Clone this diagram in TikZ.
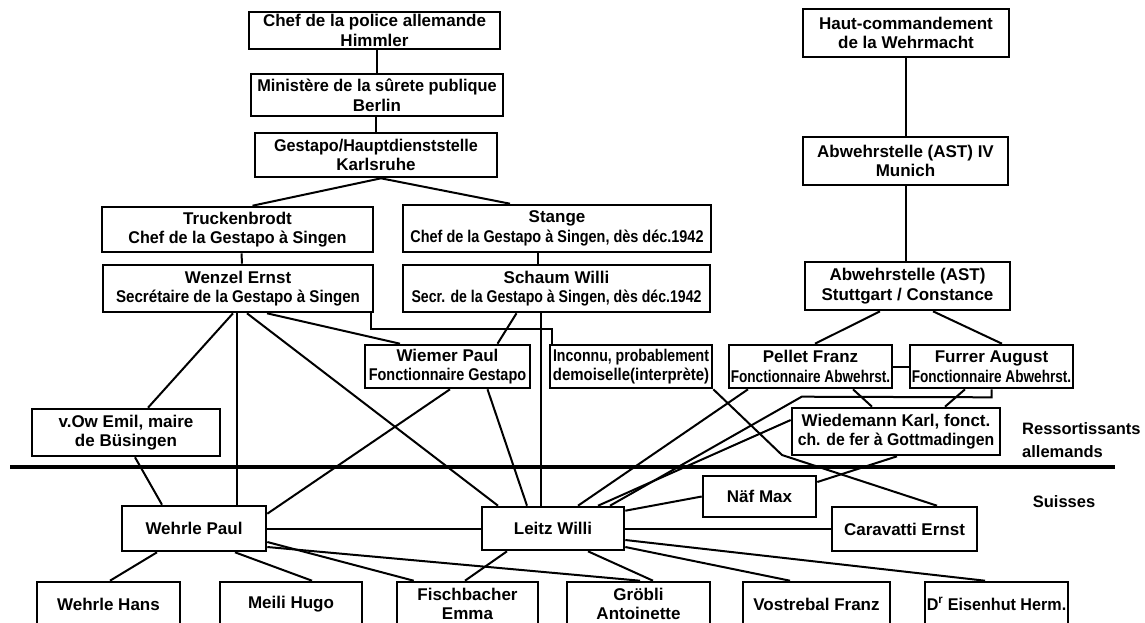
\documentclass[tikz,border=0pt]{standalone}
\usepackage{fontspec}
\setmainfont{Liberation Sans}
\usetikzlibrary{calc}
\newcommand\hsq[2]{\scalebox{#1}[1]{#2}}
\begin{document}
\begin{tikzpicture}[x=1pt,y=-1pt,
  box/.style={draw, line width=2.6pt, inner sep=0pt, align=center,
    font=\fontsize{17}{19.5}\selectfont\bfseries},
  sz/.style 2 args={minimum width=#1pt, minimum height=#2pt},
  conn/.style={line width=2pt},
  lbl/.style={font=\fontsize{16.5}{23}\selectfont\bfseries, align=left, inner sep=0pt}]
\clip (0,0) rectangle (1145,622);
\fill[white] (0,0) rectangle (1145,622);

% Gestapo chain
\node[box,sz={251}{37}] (police) at (374.5,30.5) {Chef de la police allemande\\Himmler};
\node[box,sz={252}{42}] (minist) at (377,95) {\hsq{0.96}{Ministère de la sûrete publique}\\Berlin};
\node[box,sz={242}{44}] (gestk) at (376,155) {\hsq{0.95}{Gestapo/Hauptdienststelle}\\Karlsruhe};
% Wehrmacht chain
\node[box,sz={206}{48}] (haut) at (906,33) {Haut-commandement\\de la Wehrmacht};
\node[box,sz={205}{48}] (munich) at (905.5,161) {Abwehrstelle (AST) IV\\Munich};
\node[box,sz={205}{48}] (stutt) at (907.5,286) {Abwehrstelle (AST)\\Stuttgart / Constance};
% Singen
\node[box,sz={271}{45}] (truck) at (237.5,229.5) {Truckenbrodt\\\hsq{0.95}{Chef de la Gestapo à Singen}};
\node[box,sz={308}{47}] (stange) at (557,228.5) {Stange\\\hsq{0.85}{Chef de la Gestapo à Singen, dès déc.1942}};
\node[box,sz={270}{47}] (wenzel) at (238,288.5) {Wenzel Ernst\\\hsq{0.89}{Secrétaire de la Gestapo à Singen}};
\node[box,sz={307}{47}] (schaum) at (556.5,288.5) {Schaum Willi\\\hsq{0.83}{Secr. de la Gestapo à Singen, dès déc.1942}};
\node[box,sz={165}{43}] (wiemer) at (447.5,366.5) {Wiemer Paul\\\hsq{0.85}{Fonctionnaire Gestapo}};
\node[box,sz={162}{43}] (inconnu) at (631,366.5) {\hsq{0.83}{Inconnu, probablement}\\\hsq{0.88}{demoiselle(interprète)}};
\node[box,sz={163}{43}] (pellet) at (810.5,366.5) {Pellet Franz\\\hsq{0.8}{Fonctionnaire Abwehrst.}};
\node[box,sz={163}{43}] (furrer) at (991.5,366.5) {Furrer August\\\hsq{0.8}{Fonctionnaire Abwehrst.}};
\node[box,sz={208}{47}] (wiedem) at (896,431.5) {Wiedemann Karl, fonct.\\\hsq{0.93}{ch. de fer à Gottmadingen}};
\node[box,sz={188}{47}] (vow) at (126,432.5) {v.Ow Emil, maire\\de Büsingen};
% Swiss
\node[box,sz={144}{45}] (wpaul) at (194,528.5) {Wehrle Paul};
\node[box,sz={142}{43}] (leitz) at (553,528.5) {Leitz Willi};
\node[box,sz={113}{41}] (naf) at (759.5,496.5) {Näf Max};
\node[box,sz={145}{44}] (carav) at (904.5,529) {Caravatti Ernst};
\node[box,sz={143}{44}] (whans) at (108.5,604) {Wehrle Hans};
\node[box,sz={142}{44}] (meili) at (291,604) {Meili Hugo};
\node[box,sz={141}{44}] (fisch) at (467.5,604) {Fischbacher\\Emma};
\node[box,sz={143}{44}] (grobli) at (638.5,604) {Gröbli\\Antoinette};
\node[box,sz={147}{44}] (vostr) at (816.5,604) {Vostrebal Franz};
\node[box,sz={143}{44}] (eisen) at (996.5,604) {\hsq{0.95}{D\textsuperscript{r} Eisenhut Herm.}};

% labels and border
\node[lbl, anchor=west] (ress) at (1022,440) {Ressortissants\\allemands};
\node[lbl] (suisses) at (1064,502) {Suisses};
\draw[line width=4.5pt] (10,467) -- (1115,467);

% connectors: hierarchy
\draw[conn] (minist.north |- police.south) -- (minist.north);
\draw[conn] (gestk.north |- minist.south) -- (gestk.north);
\draw[conn] ($(gestk.south)+(5,0)$) -- ($(truck.north)+(15,0)$);
\draw[conn] ($(gestk.south)+(5,0)$) -- ($(stange.north)+(-47,0)$);
\draw[conn] ($(truck.south)+(4,0)$) -- ($(wenzel.north)+(4,0)$);
\draw[conn] ($(stange.south)+(-19,0)$) -- ($(schaum.north)+(-18.5,0)$);
\draw[conn] (haut.south) -- (haut.south |- munich.north);
\draw[conn] (munich.south) -- (munich.south |- stutt.north);
\draw[conn] ($(stutt.south)+(-27.5,0)$) -- ($(pellet.north)+(4.5,0)$);
\draw[conn] ($(stutt.south)+(25.5,0)$) -- ($(furrer.north)+(10.5,0)$);
\draw[conn] (pellet.east) -- (furrer.west);

% Wenzel
\draw[conn] ($(wenzel.south)+(-5,0)$) -- ($(vow.north)+(22,0)$);
\coordinate (wv) at ($(wenzel.south)+(-1,0)$);
\draw[conn] (wv) -- (wv |- wpaul.north);
\draw[conn] ($(wenzel.south)+(9,0)$) -- ($(leitz.north)+(-55,0)$);
\draw[conn] ($(wenzel.south)+(29,0)$) -- ($(wiemer.north)+(-47.5,0)$);
\draw[conn] ($(wenzel.south east)+(-3,0)$) -- ++(0,16) -| ($(inconnu.north west)+(3,0)$);
% Schaum
\draw[conn] ($(schaum.south)+(-40,0)$) -- ($(wiemer.north)+(50,0)$);
\coordinate (sl) at ($(schaum.south)+(-16,0)$);
\draw[conn] (sl) -- (sl |- leitz.north);
% Wiemer
\draw[conn] ($(wiemer.south)+(2.5,0)$) -- ($(wpaul.north east)+(0,9)$);
\draw[conn] ($(wiemer.south)+(40,0)$) -- ($(leitz.north)+(-26,0)$);
% v. Ow
\draw[conn] ($(vow.south)+(9,0)$) -- ($(wpaul.north)+(-32,0)$);
% Wehrle Paul
\draw[conn] (wpaul.east) -- (leitz.west);
\draw[conn] ($(wpaul.south)+(-37,0)$) -- ($(whans.north)+(1.5,0)$);
\draw[conn] ($(wpaul.south)+(41,0)$) -- ($(meili.north)+(21,0)$);
\draw[conn] ($(wpaul.east)+(0,13.5)$) -- ($(fisch.north west)+(18,0)$);
\draw[conn] ($(wpaul.east)+(0,18.5)$) -- ($(grobli.north)+(1.5,0)$);
% Leitz
\draw[conn] ($(leitz.south)+(-46,0)$) -- ($(fisch.north)+(-2.5,0)$);
\draw[conn] ($(leitz.south)+(35,0)$) -- ($(grobli.north)+(14.5,0)$);
\draw[conn] ($(leitz.east)+(0,18.5)$) -- ($(vostr.north)+(-26.5,0)$);
\draw[conn] ($(leitz.east)+(0,11.5)$) -- ($(eisen.north)+(-11.5,0)$);
\draw[conn] ($(leitz.north east)+(0,5)$) -- (naf.west);
\draw[conn] (leitz.east) -- (leitz.east -| carav.west);
% Abwehr agents
\draw[conn] ($(pellet.south)+(-62.5,0)$) -- ($(leitz.north)+(25,0)$);
\draw[conn] ($(wiedem.west)+(0,-11.5)$) -- ($(leitz.north)+(45,0)$);
\draw[conn] (furrer.south) -- ++(0,8) -- ($(wiedem.north west)+(11,-10)$) -- ($(leitz.north)+(57,0)$);
\draw[conn] ($(pellet.south)+(42.5,0)$) -- ($(wiedem.north)+(-24,0)$);
\draw[conn] ($(furrer.south)+(-26.5,0)$) -- ($(wiedem.north)+(49,0)$);
\draw[conn] ($(wiedem.south)+(1,0)$) -- ($(naf.east)+(0,-14.5)$);
\draw[conn] (inconnu.south east) -- (782,455) -- ($(carav.north)+(32.5,0)$);
\end{tikzpicture}
\end{document}
